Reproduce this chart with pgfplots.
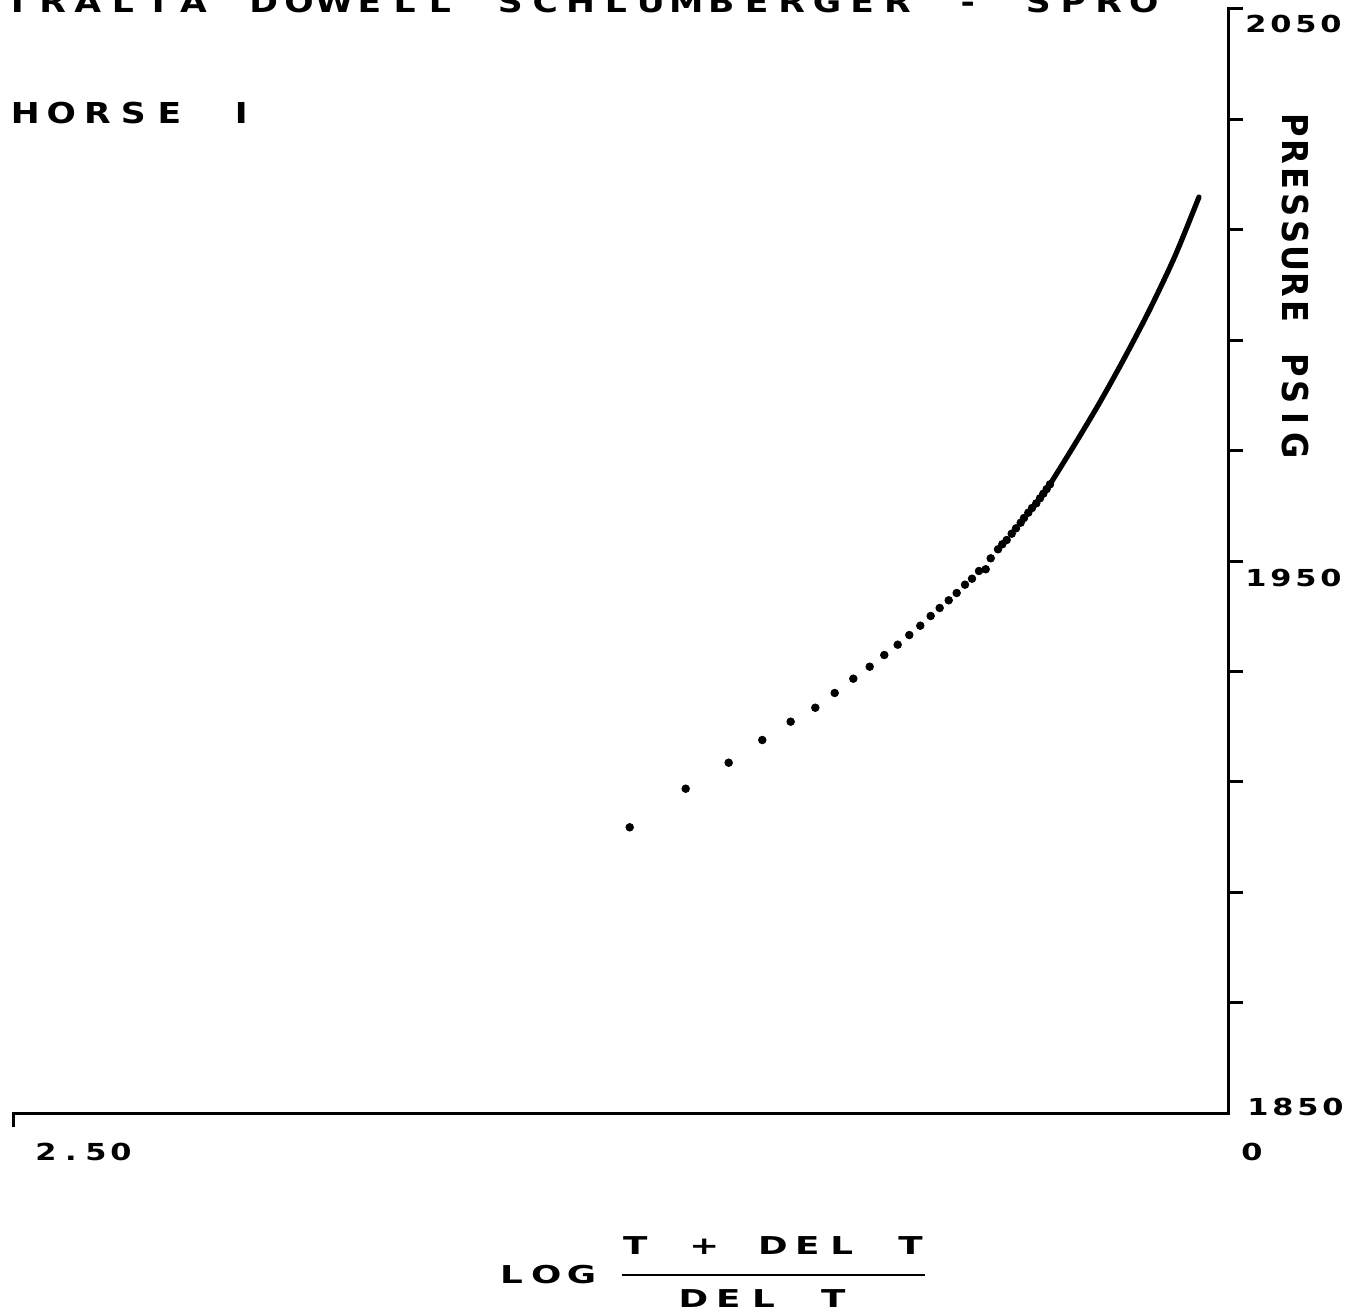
\documentclass[border=0pt]{standalone}
\usepackage{fontspec}
\setmainfont{DejaVu Sans}
\usepackage{graphicx}
\usepackage{pgfplots}
\pgfplotsset{compat=1.18}
\makeatletter
\newcommand\cells[3]{\def\cells@p{#1}\def\cells@s{#2}\cells@loop#3\@nil}
\def\cells@loop#1{%
  \ifx\@nil#1\else
    \makebox[\cells@p][c]{\scalebox{\cells@s}[1]{#1}}%
    \expandafter\cells@loop
  \fi}
\makeatother
\begin{document}
\begin{tikzpicture}
\useasboundingbox (0,0) rectangle (679.5pt,657pt);
\begin{axis}[at={(7pt,100.5pt)}, anchor=south west, scale only axis,
  width=607.5pt, height=552pt,
  xmin=0, xmax=2.5, x dir=reverse, ymin=1850, ymax=2050,
  axis x line*=bottom, axis y line*=right,
  axis line style={-, line width=1.5pt, line cap=rect, black},
  xtick={2.5}, ytick={1870,1890,...,2050},
  xticklabels={}, yticklabels={},
  tick align=outside, major tick length=7pt,
  tick style={line width=1.5pt, black},
  clip=false]
\addplot[only marks, mark=*, mark size=1.9pt, black] coordinates {
(1.2331,1901.76) (1.1179,1908.75) (1.0294,1913.46) (0.9603,1917.57)
(0.9019,1920.89) (0.8512,1923.42) (0.8113,1926.09) (0.7730,1928.68)
(0.7393,1930.85) (0.7093,1932.97) (0.6817,1934.84) (0.6578,1936.59)
(0.6352,1938.28) (0.6138,1940.04) (0.5953,1941.49) (0.5767,1942.88)
(0.5603,1944.20) (0.5432,1945.71) (0.5288,1946.79) (0.5144,1948.19)
(0.5006,1948.50) (0.4903,1950.49) (0.4753,1952.12) (0.4665,1953.03)
(0.4574,1953.80) (0.4471,1954.95) (0.4383,1955.92) (0.4286,1956.94)
(0.4218,1957.79) (0.4130,1958.75) (0.4053,1959.60) (0.3965,1960.45)
(0.3889,1961.36) (0.3821,1962.19) (0.3751,1963.04) (0.3683,1963.89)
};
\addplot[black, line width=2.6pt, smooth, line cap=round] coordinates {
(0.3683,1963.89) (0.3169,1971.20) (0.2654,1978.80) (0.2140,1986.96)
(0.1626,1995.65) (0.1111,2005.25) (0.0617,2015.94)
};
\end{axis}
% title (left part runs off the sheet, as in the original)
\node[anchor=base west, inner sep=0pt, font=\bfseries\fontsize{14.4pt}{16pt}\selectfont] at (-53.1pt,650.5pt)
  {\cells{17.6pt}{1.2}{AUSTRALIA~DOWELL~SCHLUMBERGER~-~SPRO}};
\node[anchor=base west, inner sep=0pt, font=\bfseries\fontsize{14.4pt}{16pt}\selectfont] at (3.5pt,595pt)
  {\cells{18pt}{1.2}{HORSE~I}};
% y tick labels
\node[anchor=west, inner sep=0pt, font=\bfseries\fontsize{11.7pt}{13pt}\selectfont] at (621.5pt,645pt) {\cells{12.5pt}{1.3}{2050}};
\node[anchor=west, inner sep=0pt, font=\bfseries\fontsize{11.7pt}{13pt}\selectfont] at (621.5pt,368pt) {\cells{12.5pt}{1.3}{1950}};
\node[anchor=west, inner sep=0pt, font=\bfseries\fontsize{11.7pt}{13pt}\selectfont] at (622.5pt,103.5pt) {\cells{12.5pt}{1.3}{1850}};
% x tick labels
\node[anchor=west, inner sep=0pt, font=\bfseries\fontsize{11.7pt}{13pt}\selectfont] at (16.5pt,81pt) {\cells{12.5pt}{1.3}{2.50}};
\node[anchor=center, inner sep=0pt, font=\bfseries\fontsize{11.7pt}{13pt}\selectfont] at (626pt,81pt) {\cells{12.5pt}{1.3}{0}};
% y label
\node[rotate=-90, anchor=center, inner sep=0pt, font=\bfseries\fontsize{17.8pt}{19pt}\selectfont] at (647.5pt,514.5pt)
  {\cells{13.35pt}{0.9}{PRESSURE~PSIG}};
% x label
\node[anchor=west, inner sep=0pt, font=\bfseries\fontsize{12.3pt}{14pt}\selectfont] at (246.75pt,19.5pt) {\cells{17.5pt}{1.45}{LOG}};
\node[anchor=west, inner sep=0pt, font=\bfseries\fontsize{12.3pt}{14pt}\selectfont] at (308.9pt,34pt) {\cells{17.2pt}{1.45}{T~+~DEL~T}};
\draw[line width=1.3pt, black] (311pt,19.5pt) -- (462.5pt,19.5pt);
\node[anchor=west, inner sep=0pt, font=\bfseries\fontsize{12.3pt}{14pt}\selectfont] at (337.75pt,7.5pt) {\cells{17.5pt}{1.45}{DEL~T}};
\end{tikzpicture}
\end{document}
